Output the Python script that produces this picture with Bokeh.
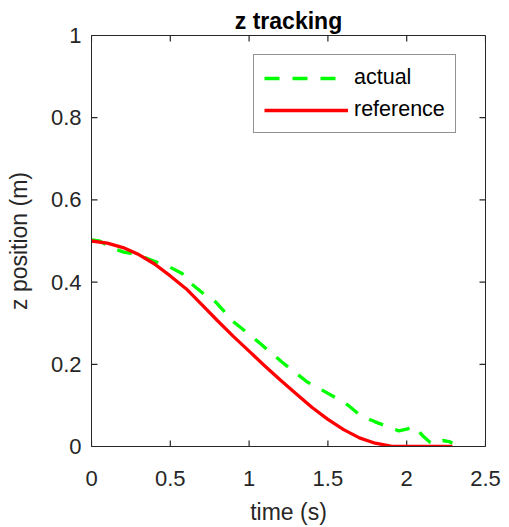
from bokeh.plotting import figure
from bokeh.models import (Range1d, FixedTicker, NumeralTickFormatter,
                          Legend, LegendItem, ColumnDataSource)
from bokeh.embed import file_html
from bokeh.resources import INLINE

# ---- data ----
t_reference = [0.0, 0.1, 0.2, 0.3, 0.4, 0.5, 0.6, 0.7, 0.8, 0.9, 1.0, 1.1, 1.2,
               1.3, 1.4, 1.5, 1.6, 1.7, 1.8, 1.9, 2.0, 2.1, 2.2, 2.29]
z_reference = [0.500, 0.495, 0.484, 0.467, 0.444, 0.415, 0.384, 0.345, 0.306,
               0.268, 0.232, 0.196, 0.161, 0.128, 0.095, 0.066, 0.041, 0.021,
               0.008, 0.001, 0.0, 0.0, 0.0, 0.0]

t_actual = [0.0, 0.05, 0.1, 0.15, 0.205, 0.25, 0.3, 0.35, 0.438, 0.5, 0.575,
            0.607, 0.723, 0.787, 0.903, 1.06, 1.21, 1.369, 1.45, 1.548, 1.63,
            1.707, 1.8, 1.897, 1.95, 2.0, 2.045, 2.07, 2.09, 2.11, 2.15, 2.186,
            2.21, 2.228, 2.27, 2.29]
z_actual = [0.503, 0.500, 0.490, 0.480, 0.473, 0.470, 0.465, 0.458, 0.445,
            0.436, 0.421, 0.404, 0.368, 0.352, 0.303, 0.254, 0.205, 0.157,
            0.140, 0.119, 0.100, 0.0755, 0.060, 0.0455, 0.038, 0.042, 0.049,
            0.042, 0.031, 0.023, 0.010, 0.0065, 0.012, 0.0146, 0.012, 0.008]

x_ticks = [0, 0.5, 1, 1.5, 2, 2.5]
y_ticks = [0, 0.2, 0.4, 0.6, 0.8, 1]

title_text = "z tracking"
x_label = "time (s)"
y_label = "z position (m)"
series_names = ["actual", "reference"]

FONT = "Liberation Sans"
AX = "#262626"

x0, x1 = x_ticks[0], x_ticks[-1]
y0, y1 = y_ticks[0], y_ticks[-1]

p = figure(width=509, height=527, output_backend="svg", toolbar_location=None,
           x_range=Range1d(x0, x1), y_range=Range1d(y0, y1),
           min_border_left=91, min_border_right=24, min_border_top=35,
           min_border_bottom=81, title=title_text)
p.background_fill_color = "white"
p.border_fill_color = "white"
p.xgrid.visible = False
p.ygrid.visible = False
p.outline_line_color = AX
p.outline_line_width = 1

p.title.text_font = FONT
p.title.text_font_style = "bold"
p.title.text_font_size = "23px"
p.title.align = "center"
p.title.text_color = "black"
p.title.standoff = 3

xax = p.xaxis[0]
yax = p.yaxis[0]
xax.ticker = FixedTicker(ticks=x_ticks)
yax.ticker = FixedTicker(ticks=y_ticks)

for ax in [xax, yax]:
    ax.formatter = NumeralTickFormatter(format="0.[0]")
    ax.axis_line_color = AX
    ax.major_tick_line_color = AX
    ax.major_tick_in = 0
    ax.major_tick_out = 0
    ax.minor_tick_in = 0
    ax.minor_tick_out = 0
    ax.major_label_text_font = FONT
    ax.major_label_text_font_size = "22px"
    ax.major_label_text_color = AX
    ax.axis_label_text_font = FONT
    ax.axis_label_text_font_size = "23px"
    ax.axis_label_text_font_style = "normal"
    ax.axis_label_text_color = AX

xax.axis_label = x_label
yax.axis_label = y_label
xax.major_label_standoff = 24
yax.major_label_standoff = 10
xax.axis_label_standoff = 10
yax.axis_label_standoff = 16

# inward tick marks on all four sides of the box (about 6 px long)
tx = (x1 - x0) * 6.0 / 394.0
ty = (y1 - y0) * 6.0 / 411.0
n_x = len(x_ticks)
n_y = len(y_ticks)
p.segment(x0=x_ticks, y0=[y0] * n_x, x1=x_ticks, y1=[y0 + ty] * n_x,
          line_color=AX, line_width=1.2)
p.segment(x0=x_ticks, y0=[y1] * n_x, x1=x_ticks, y1=[y1 - ty] * n_x,
          line_color=AX, line_width=1.2)
p.segment(x0=[x0] * n_y, y0=y_ticks, x1=[x0 + tx] * n_y, y1=y_ticks,
          line_color=AX, line_width=1.2)
p.segment(x0=[x1] * n_y, y0=y_ticks, x1=[x1 - tx] * n_y, y1=y_ticks,
          line_color=AX, line_width=1.2)

src_act = ColumnDataSource(dict(t=t_actual, z=z_actual))
src_ref = ColumnDataSource(dict(t=t_reference, z=z_reference))

r_act = p.line("t", "z", source=src_act, line_color="#00ff00", line_width=3.3,
               line_dash="15 13")
r_ref = p.line("t", "z", source=src_ref, line_color="#ff0000", line_width=3.3)

legend = Legend(items=[LegendItem(label=series_names[0], renderers=[r_act]),
                       LegendItem(label=series_names[1], renderers=[r_ref])],
                location=(162, 313))
legend.label_text_font = FONT
legend.label_text_font_size = "21.5px"
legend.label_text_color = "black"
legend.glyph_width = 84
legend.glyph_height = 24
legend.label_standoff = 6
legend.padding = 10
legend.spacing = 7
legend.margin = 0
legend.border_line_color = AX
legend.border_line_width = 1
legend.background_fill_color = "white"
legend.background_fill_alpha = 1
p.add_layout(legend, "center")

open("out.html", "w").write(file_html(p, INLINE))
